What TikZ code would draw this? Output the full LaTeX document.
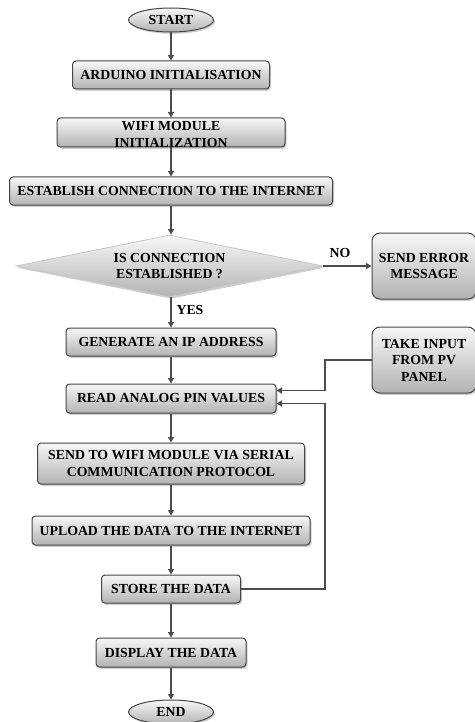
\documentclass[tikz,border=0pt]{standalone}
\usepackage{fontspec}
\setmainfont{Liberation Serif}
\usetikzlibrary{shadows,arrows.meta,calc,shapes.geometric}
\begin{document}
\begin{tikzpicture}[x=1pt,y=-1pt,
  base/.style={draw=gray!55!black, line width=1pt, top color=gray!6, middle color=gray!30, bottom color=gray!60,
    drop shadow={shadow xshift=1.5pt, shadow yshift=-1.8pt, fill=gray!70, opacity=0.55},
    font=\bfseries\fontsize{13.8}{16.5}\selectfont, align=center, inner sep=0pt},
  box/.style={base, rounded corners=3.5pt},
  sidebox/.style={base, rounded corners=8pt, minimum width=104pt, minimum height=66pt},
  oval/.style={base, ellipse, minimum width=85pt, minimum height=24pt},
  dec/.style={base, diamond, aspect=5, draw=gray!45, line width=0.8pt, minimum width=307pt, minimum height=62pt},
  lbl/.style={font=\bfseries\fontsize{13.8}{16.5}\selectfont, inner sep=0pt},
  arr/.style={draw=gray!60!black, line width=1.6pt, -{Triangle[length=5.5pt,width=6pt]}},
  ln/.style={draw=gray!60!black, line width=1.6pt}
]
\useasboundingbox[fill=white] (0,0) rectangle (474,722);

\node[oval] (start) at (171,20) {START};
\node[box, minimum width=197pt, minimum height=28pt] (ard) at (171,75) {ARDUINO INITIALISATION};
\node[box, minimum width=228pt, minimum height=29pt] (wifi) at (171,132.5) {};
\node[lbl, align=center, font=\bfseries\fontsize{13.8}{17}\selectfont] (wifitext) at (171,134) {WIFI MODULE\\INITIALIZATION};
\node[box, minimum width=323pt, minimum height=28pt] (est) at (171,191) {ESTABLISH CONNECTION TO THE INTERNET};
\node[dec] (dia) at (169.5,266) {IS CONNECTION\\ESTABLISHED ?};
\node[sidebox] (err) at (424,266) {SEND ERROR\\MESSAGE};
\node[box, minimum width=210pt, minimum height=28pt] (gen) at (171,342) {GENERATE AN IP ADDRESS};
\node[sidebox] (take) at (424,360) {TAKE INPUT\\FROM PV\\PANEL};
\node[box, minimum width=210pt, minimum height=29pt] (read) at (171,398.5) {READ ANALOG PIN VALUES};
\node[box, minimum width=267pt, minimum height=41pt] (send) at (171,463.5) {SEND TO WIFI MODULE VIA SERIAL\\COMMUNICATION PROTOCOL};
\node[box, minimum width=278pt, minimum height=29pt] (up) at (171,530.5) {UPLOAD THE DATA TO THE INTERNET};
\node[box, minimum width=139pt, minimum height=28pt] (store) at (171,589) {STORE THE DATA};
\node[box, minimum width=150pt, minimum height=29pt] (disp) at (171,652.5) {DISPLAY THE DATA};
\node[oval] (end) at (171,712) {END};

\node[lbl] (yes) at (190,310) {YES};
\node[lbl] (no) at (340,253) {NO};

\coordinate (col) at (325,0);

\draw[arr] (start.south) -- (start.south |- ard.north);
\draw[arr] (ard.south) -- (ard.south |- wifi.north);
\draw[arr] (wifi.south) -- (wifi.south |- est.north);
\draw[arr] (est.south) -- (est.south |- dia.north);
\draw[arr] (est.south |- dia.south) -- (est.south |- gen.north);
\draw[arr] (dia.east) -- (err.west);
\draw[arr] (gen.south) -- (gen.south |- read.north);
\draw[arr] (take.west) -- (take.west -| col) |- ([yshift=8pt]read.east);
\draw[arr] (store.east) -- (store.east -| col) |- ([yshift=-5pt]read.east);
\draw[arr] (read.south) -- (read.south |- send.north);
\draw[arr] (send.south) -- (send.south |- up.north);
\draw[arr] (up.south) -- (up.south |- store.north);
\draw[arr] (store.south) -- (store.south |- disp.north);
\draw[arr] (disp.south) -- (disp.south |- end.north);
\end{tikzpicture}
\end{document}
